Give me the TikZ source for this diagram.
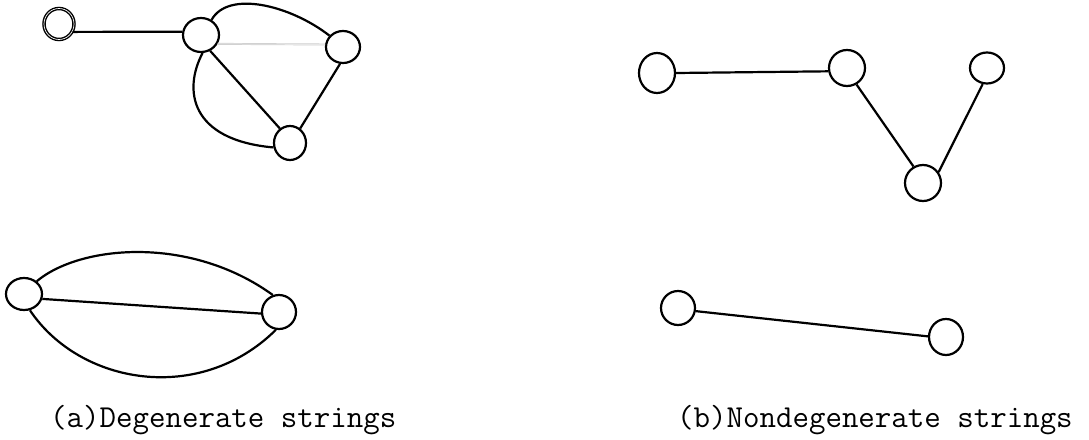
\documentclass[tikz,border=0pt]{standalone}
\usepackage{fontspec}
\usetikzlibrary{shapes.geometric}
\begin{document}
\begin{tikzpicture}[x=1pt,y=-1pt,
  vtx/.style={draw,ellipse,line width=2.2pt,inner sep=0pt,minimum width=#1},
  vtx/.default=36pt,
  edge/.style={line width=2.2pt},
  faint/.style={draw=gray!40,line width=0.7pt,double=gray!8,double distance=0.5pt},
  captext/.style={anchor=base west,inner sep=0pt,font=\fontsize{32}{34}\selectfont\ttfamily}]
\useasboundingbox (0,0) rectangle (1089,439);
% (a) upper graph
\node[draw,ellipse,inner sep=0pt,minimum width=30pt,minimum height=31pt,line width=1.4pt,double,double distance=0.7pt] (Z) at (59,24) {};
\node[vtx=36pt,minimum height=34pt] (A) at (201,35) {};
\node[vtx=34pt,minimum height=32pt] (B) at (343,47) {};
\node[vtx=32pt,minimum height=34pt] (C) at (290,143) {};
\draw[edge] (Z.-30) -- (A.170);
\draw[edge] (A.55) .. controls (228,-10) and (290,5) .. (B.140);
\draw[faint] (A.-28) -- (B.172);
\draw[edge] (A.-60) -- (C.125);
\draw[edge] (B.-100) -- (C.55);
\draw[edge] (A.-85) .. controls (183,90) and (190,140) .. (C.195);
% (a) lower graph
\node[vtx=36pt,minimum height=32pt] (D) at (24,294) {};
\node[vtx=34pt,minimum height=34pt] (E) at (279,312) {};
\draw[edge] (D.45) .. controls (80,245) and (190,235) .. (E.110);
\draw[edge] (D.-15) -- (E.185);
\draw[edge] (D.-70) .. controls (80,385) and (200,405) .. (E.-100);
% (b) upper graph
\node[vtx=36pt,minimum height=40pt] (F) at (657,73) {};
\node[vtx=36pt,minimum height=36pt] (G) at (847,68) {};
\node[vtx=34pt,minimum height=31pt] (H) at (987,68) {};
\node[vtx=36pt,minimum height=36pt] (I) at (923,183) {};
\draw[edge] (F.east) -- (G.190);
\draw[edge] (G.-60) -- (I.120);
\draw[edge] (H.-105) -- (I.35);
% (b) lower graph
\node[vtx=34pt,minimum height=34pt] (J) at (678,308) {};
\node[vtx=34pt,minimum height=36pt] (K) at (946,337) {};
\draw[edge] (J.-10) -- (K.178);
% captions
\node[captext] (ca) at (50,427) {(a)Degenerate strings};
\node[captext] (cb) at (677,427) {(b)Nondegenerate strings};
\end{tikzpicture}
\end{document}
